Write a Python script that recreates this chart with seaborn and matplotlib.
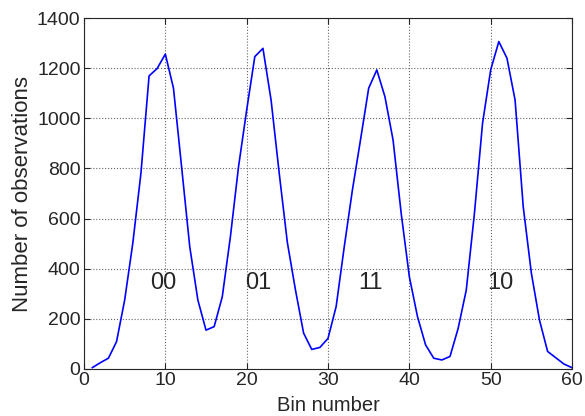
import numpy as np
import pandas as pd
import seaborn as sns
import matplotlib
matplotlib.use("Agg")
import matplotlib.pyplot as plt

bins = list(range(1, 61))
counts = [5, 25, 43, 109, 275, 502, 781, 1169, 1199, 1256,
          1120, 806, 488, 275, 155, 169, 288, 528, 807, 1033,
          1246, 1279, 1073, 781, 505, 315, 143, 78, 86, 122,
          249, 488, 714, 915, 1120, 1193, 1086, 913, 620, 368,
          209, 96, 43, 36, 50, 162, 315, 620, 980, 1193,
          1306, 1240, 1073, 648, 383, 195, 70, 45, 20, 5]
code_labels = ["00", "01", "11", "10"]
code_x = [9.7, 21.4, 35.2, 51.2]
code_y = [345, 345, 345, 345]

df = pd.DataFrame({"bin": bins, "count": counts})

sns.set_style("ticks")
plt.rcParams['font.family'] = ['Liberation Sans', 'DejaVu Sans']

fig = plt.figure(figsize=(5.85, 4.16), dpi=100)
ax = fig.add_axes([0.1436, 0.113, 0.8342, 0.8437])

sns.lineplot(data=df, x="bin", y="count", color="blue", linewidth=1.2, ax=ax)

for lab, x, y in zip(code_labels, code_x, code_y):
    ax.text(x, y, lab, fontsize=17, ha="center", va="center")

ax.set_xlim(0, 60)
ax.set_ylim(0, 1400)
ax.set_xticks(range(0, 61, 10))
ax.set_yticks(range(0, 1401, 200))
ax.grid(True, linestyle=":", color="#666666", linewidth=0.8)
ax.tick_params(direction="in", top=True, right=True, labelsize=14, length=4)
ax.tick_params(axis="x", pad=2)
ax.tick_params(axis="y", pad=2.5)
for s in ax.spines.values():
    s.set_linewidth(0.8)
ax.set_xlabel("Bin number", fontsize=14.5, labelpad=5)
ax.set_ylabel("Number of observations", fontsize=16, labelpad=3)

fig.savefig("out.png", dpi=100)
